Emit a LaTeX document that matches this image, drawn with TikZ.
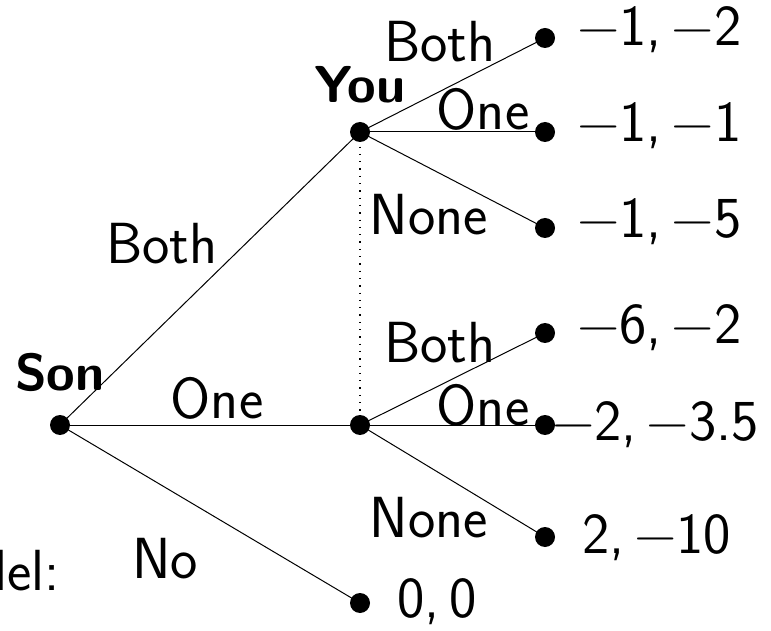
\documentclass[tikz,border=0pt]{standalone}
\usepackage{fontspec}
\begin{document}
\begin{tikzpicture}[x=1pt,y=1pt,
  dot/.style={circle,fill=black,inner sep=0pt,minimum size=20pt},
  txt/.style={inner sep=0pt,font=\sffamily\fontsize{58}{68}\selectfont},
  bold/.style={inner sep=0pt,anchor=base,font=\sffamily\bfseries\fontsize{52}{62}\selectfont},
  pay/.style={txt,anchor=base west},
  edge/.style={line width=1pt}]
\useasboundingbox (0,0) rectangle (771,630);
% decision nodes
\node[dot] (son) at (60,205) {};
\node[dot] (you) at (360,498) {};
\node[dot] (you2) at (360,205) {};
% leaves
\node[dot] (l1) at (545,592) {};
\node[dot] (l2) at (545,498) {};
\node[dot] (l3) at (545,402) {};
\node[dot] (l4) at (545,297) {};
\node[dot] (l5) at (545,205) {};
\node[dot] (l6) at (545,93) {};
\node[dot] (l0) at (360,27) {};
% edges
\draw[edge] (son.center) -- (you.center);
\draw[edge] (son.center) -- (you2.center);
\draw[edge] (son.center) -- (l0.center);
\draw[edge] (you.center) -- (l1.center);
\draw[edge] (you.center) -- (l2.center);
\draw[edge] (you.center) -- (l3.center);
\draw[edge] (you2.center) -- (l4.center);
\draw[edge] (you2.center) -- (l5.center);
\draw[edge] (you2.center) -- (l6.center);
\draw[line width=1.3pt,dash pattern=on 1.3pt off 6pt] (you.center) -- (you2.center);
% player labels
\node[bold] (sonlab) at (60,240) {Son};
\node[bold] (youlab) at (360,527) {You};
% edge labels
\node[txt,anchor=base] (e1) at (162,366) {Both};
\node[txt,anchor=base] (e2) at (217,212) {One};
\node[txt,anchor=base] (e3) at (165,52) {No};
\node[txt,anchor=base] (e4) at (440,568) {Both};
\node[txt,anchor=base] (e5) at (483,500) {One};
\node[txt,anchor=base] (e6) at (429,395) {None};
\node[txt,anchor=base] (e7) at (440,268) {Both};
\node[txt,anchor=base] (e8) at (483,205) {One};
\node[txt,anchor=base] (e9) at (429,93) {None};
% payoffs
\node[pay] (p1) at (577,584) {−1,\,−2};
\node[pay] (p2) at (577,488) {−1,\,−1};
\node[pay] (p3) at (577,392) {−1,\,−5};
\node[pay] (p4) at (577,287) {−6,\,−2};
\node[pay] (p5) at (552,190) {−2,\,−3.5};
\node[pay] (p6) at (582,77) {2,\,−10};
\node[pay] (p0) at (397,13) {0,\,0};
% cut-off text
\node[txt,anchor=base east] (model) at (60,40) {Model:};
\end{tikzpicture}
\end{document}
